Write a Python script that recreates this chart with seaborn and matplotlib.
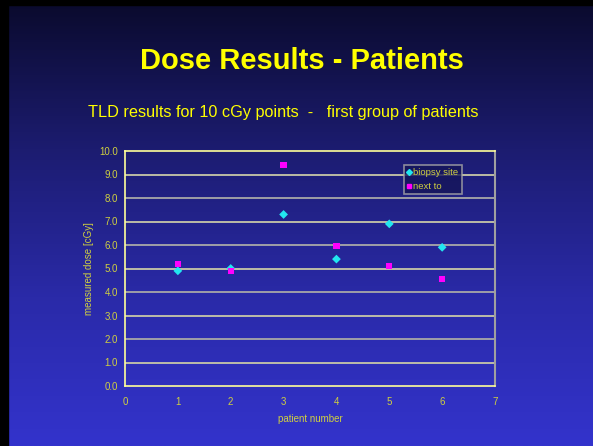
import numpy as np
import pandas as pd
import matplotlib
matplotlib.use('Agg')
import matplotlib.pyplot as plt
from matplotlib.colors import LinearSegmentedColormap
from matplotlib.lines import Line2D
from matplotlib.ticker import MultipleLocator, FormatStrFormatter
import seaborn as sns

# ========== data ==========
patients = [1, 2, 3, 4, 5, 6]
biopsy_site = [4.9, 5.0, 7.3, 5.4, 6.9, 5.9]
next_to = [5.2, 4.9, 9.4, 5.95, 5.1, 4.55]
series_names = ['biopsy site', 'next to']

df = pd.DataFrame({
    'patient': patients * 2,
    'dose': biopsy_site + next_to,
    'series': [series_names[0]] * len(patients) + [series_names[1]] * len(patients),
})

sns.set_style('white')
plt.rcParams['font.family'] = ['Liberation Sans', 'DejaVu Sans']

yellow = '#ffff00'
tick_col = '#d0d040'
fig = plt.figure(figsize=(5.93, 4.46), dpi=100)

# ========== slide background ==========
bg = fig.add_axes([0, 0, 1, 1], zorder=-10)
grad = LinearSegmentedColormap.from_list('slide', ['#0a0a2c', '#1c1c70', '#2a2aa8', '#3333cc'])
bg.imshow(np.linspace(0, 1, 256).reshape(-1, 1), aspect='auto', cmap=grad,
          extent=[0, 1, 0, 1], origin='upper')
# black frame top / left
bg.axhspan(1 - 5 / 446, 1, color='black')
bg.axvspan(0, 8 / 593, color='black')
bg.set_xlim(0, 1)
bg.set_ylim(0, 1)
bg.axis('off')

fig.text(0.51, 1 - 61 / 446, 'Dose Results - Patients', color=yellow,
         fontsize=21, fontweight='bold', ha='center', va='center')
fig.text(88 / 593, 1 - 112 / 446, 'TLD results for 10 cGy points  -   first group of patients',
         color=yellow, fontsize=11.7, ha='left', va='center')

# ========== chart ==========
ax = fig.add_axes([125 / 593, 1 - 386 / 446, 370 / 593, 235 / 446])
ax.patch.set_alpha(0)

sns.scatterplot(data=df, x='patient', y='dose', hue='series', style='series',
                palette={'biopsy site': '#22e6f0', 'next to': '#ff00ff'},
                markers={'biopsy site': 'D', 'next to': 's'},
                s=20, linewidth=0, ax=ax, legend=False, zorder=5)

ax.set_xlim(0, 7)
ax.set_ylim(0, 10)
ax.xaxis.set_major_locator(MultipleLocator(1))
ax.xaxis.set_minor_locator(MultipleLocator(0.2))
ax.yaxis.set_major_locator(MultipleLocator(1))
ax.yaxis.set_minor_locator(MultipleLocator(0.2))
ax.yaxis.set_major_formatter(FormatStrFormatter('%.1f'))

for y in range(1, 10):
    ax.axhline(y, color='#c8c8a8' if y % 2 else '#a8a8a8', lw=1.3, zorder=1)

ax.tick_params(axis='both', which='both', direction='in', colors='#ffff99',
               labelcolor=tick_col, labelsize=7)
ax.tick_params(which='major', length=3, width=0.8)
ax.tick_params(which='minor', length=2, width=0.8)
ax.tick_params(axis='x', pad=8)
ax.tick_params(axis='y', pad=5)

for side in ['left', 'bottom', 'top']:
    ax.spines[side].set_color('#ffff99')
    ax.spines[side].set_linewidth(1.2)
ax.spines['right'].set_color('#a0a0a0')
ax.spines['right'].set_linewidth(1.5)

ax.set_xlabel('patient number', color=tick_col, fontsize=7, labelpad=5)
ax.set_ylabel('measured dose [cGy]', color=tick_col, fontsize=7, labelpad=4)

handles = [
    Line2D([], [], marker='D', color='#22e6f0', linestyle='', markersize=3),
    Line2D([], [], marker='s', color='#ff00ff', linestyle='', markersize=3.5),
]
leg = ax.legend(handles, series_names, loc='upper left', bbox_to_anchor=(0.74, 0.962),
                fontsize=6.8, frameon=True, fancybox=False, handlelength=0.5,
                handletextpad=0.2, borderpad=0.35, labelspacing=0.55)
leg.get_frame().set_facecolor('#15155a')
leg.get_frame().set_edgecolor('#a8a8a8')
leg.get_frame().set_linewidth(1.2)
leg.set_zorder(10)
for t in leg.get_texts():
    t.set_color(tick_col)

fig.savefig('out.png', dpi=100)
